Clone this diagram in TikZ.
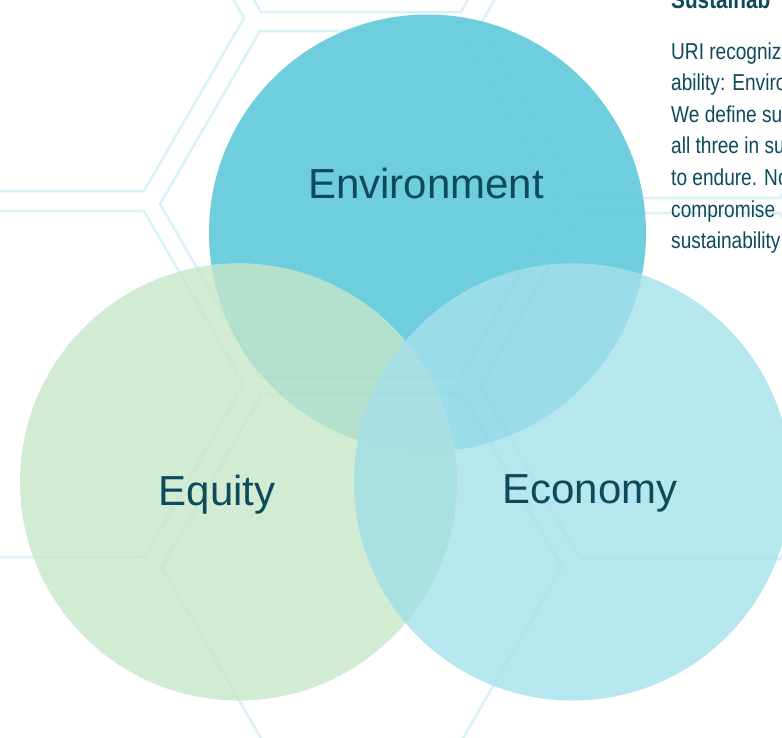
\documentclass[tikz,border=0pt]{standalone}
\usepackage{fontspec}
\setmainfont{Liberation Sans}
\newfontfamily\narrowfont[FakeStretch=0.83]{Liberation Sans}
\definecolor{envc}{HTML}{6FCEDE}
\definecolor{equc}{HTML}{D2EBD3}
\definecolor{ecoc}{HTML}{B6E7EE}
\definecolor{envequ}{HTML}{B3E1CE}
\definecolor{enveco}{HTML}{9ADCE8}
\definecolor{equeco}{HTML}{A9E1E3}
\definecolor{triple}{HTML}{A7DFE4}
\definecolor{hexc}{HTML}{5FC4DA}
\definecolor{hexlight}{HTML}{E2F5F9}
\definecolor{txtc}{HTML}{0C4A5C}
\tikzset{
  hexline/.style={draw=hexlight, line width=2.5pt, line join=miter},
  hexfaint/.style={draw=hexc, draw opacity=0.06, line width=2.5pt, line join=miter},
  bigtext/.style={font=\fontsize{42}{50}\selectfont, text=txtc, inner sep=0pt, anchor=base},
  paratext/.style={font=\narrowfont\fontsize{23}{26}\selectfont, text=txtc, inner sep=0pt, anchor=base west},
  headtext/.style={font=\narrowfont\bfseries\fontsize{25}{26}\selectfont, text=txtc, inner sep=0pt, anchor=base west}
}
\newcommand\hexpath[3]{%
  \draw[#1] ({#2+200},#3) -- ({#2+100},{#3+173}) -- ({#2-100},{#3+173})
     -- ({#2-200},#3) -- ({#2-100},{#3-173}) -- ({#2+100},{#3-173}) -- cycle;}
\begin{document}
\begin{tikzpicture}[x=1pt,y=-1pt]
\useasboundingbox (0,0) rectangle (782,737);
\fill[white] (0,0) rectangle (782,737);
\def\R{218.5}
\def\hexlist{44/18, 44/384, 361/-161, 360/204, 362/567, 680/25, 680/386}
% hexagon background pattern
\foreach \cx/\cy in \hexlist { \hexpath{hexline}{\cx}{\cy} }
\coordinate (envC) at (427.5,233);
\coordinate (equC) at (238.5,482);
\coordinate (ecoC) at (572.5,482);
% circles
\fill[envc] (envC) circle[radius=\R];
\fill[equc] (equC) circle[radius=\R];
\fill[ecoc] (ecoC) circle[radius=\R];
\begin{scope}
  \clip (envC) circle[radius=\R];
  \fill[envequ] (equC) circle[radius=\R];
  \fill[enveco] (ecoC) circle[radius=\R];
\end{scope}
\begin{scope}
  \clip (equC) circle[radius=\R];
  \fill[equeco] (ecoC) circle[radius=\R];
  \clip (envC) circle[radius=\R];
  \fill[triple] (ecoC) circle[radius=\R];
\end{scope}
% faint lines seen through the circles
\foreach \cx/\cy in \hexlist { \hexpath{hexfaint}{\cx}{\cy} }
% labels
\node[bigtext] (env) at (426,198) {Environment};
\node[bigtext] (equ) at (217,505) {Equity};
\node[bigtext] (eco) at (590,503) {Economy};
% side text
\node[headtext] (head) at (671,8) {Sustainab};
\node[paratext] (p1) at (671,59) {URI recogniz};
\node[paratext] (p2) at (671,90.6) {ability: Enviro};
\node[paratext] (p3) at (671,122.2) {We define su};
\node[paratext] (p4) at (671,153.8) {all three in su};
\node[paratext] (p5) at (671,185.4) {to endure. No};
\node[paratext] (p6) at (671,217) {compromise};
\node[paratext] (p7) at (671,248.6) {sustainability};
\end{tikzpicture}
\end{document}
